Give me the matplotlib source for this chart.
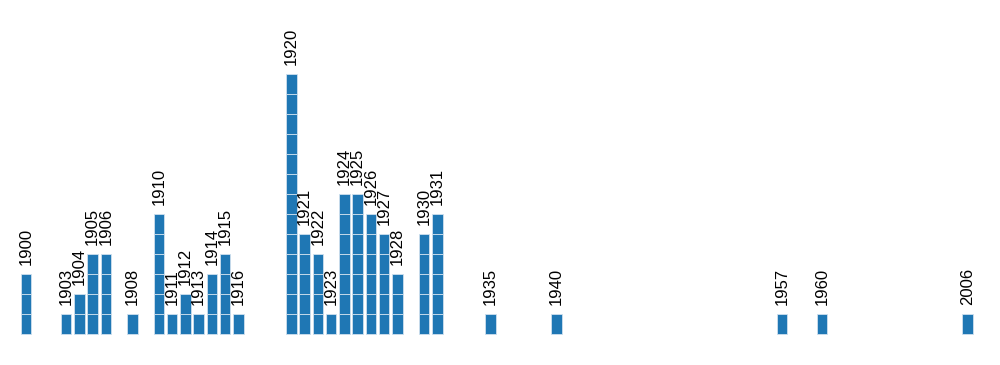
import matplotlib.pyplot as plt
import numpy as np

years = [1900, 1903, 1904, 1905, 1906, 1908, 1910, 1911, 1912, 1913, 1914, 1915, 1916,
         1920, 1921, 1922, 1923, 1924, 1925, 1926, 1927, 1928, 1930, 1931,
         1935, 1940, 1957, 1960, 2006]
counts = [3, 1, 2, 4, 4, 1, 6, 1, 2, 1, 3, 4, 1,
          13, 5, 4, 1, 7, 7, 6, 5, 3, 5, 6,
          1, 1, 1, 1, 1]

plt.rcParams['font.family'] = ['Liberation Sans', 'DejaVu Sans']

fig = plt.figure(figsize=(10, 3.65), dpi=100)
ax = fig.add_axes([0, 0, 1, 1])

# x scale is clamped at the right end, so 2006 sits just past 1970
pos = np.minimum(np.array(years), 1971)
blue = '#1f77b4'

for x, n in zip(pos, counts):
    ax.bar([x] * n, [1] * n, bottom=np.arange(n), width=0.79,
           color=blue, edgecolor='#cfe0ee', linewidth=0.6)

for x, n, y in zip(pos, counts, years):
    ax.annotate(str(y), (x, n), xytext=(0, 6.5), textcoords='offset points',
                rotation=90, ha='center', va='bottom', fontsize=12)

ax.set_xlim(1898.02, 1973.44)
ax.set_ylim(-1.55, 16.7)
ax.axis('off')

fig.savefig('out.png', dpi=100)
